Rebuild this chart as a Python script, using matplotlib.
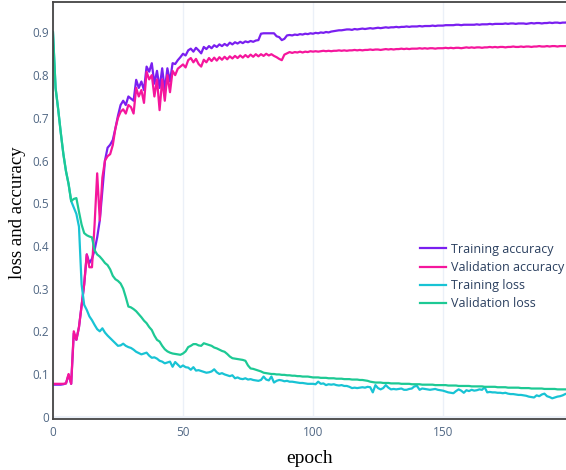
import numpy as np
import matplotlib
matplotlib.use("Agg")
import matplotlib.pyplot as plt

# per-epoch values
train_acc = [
    0.075, 0.075, 0.075, 0.075, 0.076, 0.078, 0.098, 0.077, 0.195, 0.180,
    0.210, 0.260, 0.310, 0.380, 0.360, 0.370, 0.390, 0.420, 0.460, 0.530,
    0.600, 0.630, 0.637, 0.648, 0.675, 0.705, 0.730, 0.740, 0.730, 0.750,
    0.745, 0.740, 0.789, 0.770, 0.785, 0.765, 0.820, 0.808, 0.828, 0.780,
    0.810, 0.770, 0.816, 0.765, 0.816, 0.785, 0.828, 0.826, 0.835, 0.842,
    0.850, 0.846, 0.858, 0.862, 0.855, 0.864, 0.858, 0.851, 0.866, 0.861,
    0.868, 0.863, 0.870, 0.866, 0.872, 0.868, 0.873, 0.869, 0.876, 0.872,
    0.877, 0.874, 0.878, 0.875, 0.879, 0.877, 0.880, 0.878, 0.881, 0.882,
    0.897, 0.898, 0.898, 0.898, 0.898, 0.898, 0.891, 0.889, 0.882, 0.885,
    0.893, 0.894, 0.893, 0.895, 0.894, 0.896, 0.895, 0.897, 0.896, 0.898,
    0.897, 0.899, 0.898, 0.900, 0.899, 0.901, 0.900, 0.902, 0.903, 0.904,
    0.905, 0.905, 0.906, 0.907, 0.907, 0.906, 0.908, 0.907, 0.908, 0.909,
    0.908, 0.909, 0.910, 0.909, 0.910, 0.911, 0.910, 0.911, 0.912, 0.911,
    0.912, 0.912, 0.913, 0.912, 0.913, 0.913, 0.914, 0.913, 0.914, 0.914,
    0.914, 0.915, 0.914, 0.915, 0.915, 0.915, 0.916, 0.915, 0.916, 0.916,
    0.916, 0.917, 0.917, 0.917, 0.917, 0.918, 0.918, 0.917, 0.918, 0.918,
    0.918, 0.918, 0.918, 0.919, 0.918, 0.919, 0.919, 0.919, 0.920, 0.919,
    0.920, 0.920, 0.920, 0.920, 0.921, 0.920, 0.921, 0.921, 0.920, 0.921,
    0.921, 0.921, 0.920, 0.921, 0.922, 0.921, 0.922, 0.922, 0.921, 0.922,
    0.922, 0.923, 0.922, 0.923, 0.923, 0.922, 0.923, 0.923, 0.924, 0.923,
]
val_acc = [
    0.077, 0.077, 0.077, 0.077, 0.077, 0.078, 0.100, 0.077, 0.200, 0.180,
    0.210, 0.260, 0.310, 0.380, 0.350, 0.350, 0.450, 0.570, 0.460, 0.560,
    0.600, 0.610, 0.615, 0.636, 0.675, 0.700, 0.714, 0.720, 0.710, 0.730,
    0.725, 0.710, 0.770, 0.750, 0.765, 0.735, 0.808, 0.790, 0.800, 0.750,
    0.790, 0.718, 0.790, 0.740, 0.800, 0.760, 0.810, 0.800, 0.815, 0.820,
    0.825, 0.818, 0.835, 0.840, 0.830, 0.838, 0.826, 0.820, 0.836, 0.830,
    0.840, 0.833, 0.841, 0.834, 0.842, 0.836, 0.843, 0.837, 0.844, 0.839,
    0.845, 0.840, 0.846, 0.841, 0.847, 0.842, 0.848, 0.843, 0.849, 0.844,
    0.849, 0.845, 0.850, 0.846, 0.849, 0.845, 0.842, 0.838, 0.835, 0.848,
    0.851, 0.854, 0.852, 0.854, 0.853, 0.855, 0.853, 0.855, 0.854, 0.856,
    0.855, 0.856, 0.855, 0.856, 0.857, 0.856, 0.857, 0.856, 0.857, 0.857,
    0.858, 0.857, 0.858, 0.857, 0.858, 0.858, 0.859, 0.858, 0.859, 0.858,
    0.859, 0.859, 0.860, 0.859, 0.860, 0.860, 0.859, 0.860, 0.861, 0.860,
    0.861, 0.860, 0.861, 0.861, 0.862, 0.861, 0.862, 0.861, 0.862, 0.862,
    0.862, 0.863, 0.862, 0.863, 0.862, 0.863, 0.863, 0.862, 0.863, 0.863,
    0.863, 0.864, 0.863, 0.864, 0.863, 0.864, 0.864, 0.863, 0.864, 0.865,
    0.864, 0.865, 0.864, 0.865, 0.865, 0.864, 0.865, 0.865, 0.866, 0.865,
    0.866, 0.865, 0.866, 0.866, 0.865, 0.866, 0.866, 0.867, 0.866, 0.866,
    0.867, 0.866, 0.867, 0.867, 0.866, 0.867, 0.867, 0.868, 0.867, 0.867,
    0.868, 0.867, 0.868, 0.868, 0.867, 0.868, 0.868, 0.868, 0.869, 0.868,
]
train_loss = [
    0.900, 0.770, 0.720, 0.665, 0.615, 0.575, 0.545, 0.505, 0.490, 0.475,
    0.445, 0.310, 0.262, 0.250, 0.235, 0.226, 0.215, 0.205, 0.200, 0.207,
    0.197, 0.190, 0.184, 0.178, 0.172, 0.166, 0.167, 0.171, 0.166, 0.163,
    0.161, 0.157, 0.152, 0.149, 0.146, 0.148, 0.150, 0.143, 0.138, 0.139,
    0.136, 0.131, 0.129, 0.125, 0.127, 0.129, 0.117, 0.128, 0.122, 0.116,
    0.120, 0.116, 0.115, 0.110, 0.116, 0.108, 0.109, 0.107, 0.105, 0.103,
    0.104, 0.106, 0.111, 0.104, 0.100, 0.102, 0.099, 0.097, 0.095, 0.097,
    0.090, 0.092, 0.089, 0.088, 0.090, 0.087, 0.088, 0.086, 0.085, 0.084,
    0.086, 0.094, 0.087, 0.085, 0.094, 0.080, 0.084, 0.086, 0.085, 0.083,
    0.084, 0.082, 0.082, 0.081, 0.080, 0.079, 0.079, 0.078, 0.077, 0.077,
    0.077, 0.076, 0.082, 0.077, 0.078, 0.074, 0.076, 0.075, 0.076, 0.074,
    0.073, 0.074, 0.072, 0.072, 0.070, 0.067, 0.068, 0.067, 0.068, 0.069,
    0.068, 0.070, 0.069, 0.057, 0.074, 0.067, 0.064, 0.067, 0.074, 0.068,
    0.064, 0.065, 0.064, 0.065, 0.066, 0.063, 0.063, 0.065, 0.066, 0.071,
    0.072, 0.063, 0.066, 0.065, 0.064, 0.063, 0.064, 0.065, 0.063, 0.062,
    0.061, 0.059, 0.057, 0.056, 0.055, 0.060, 0.064, 0.061, 0.056, 0.062,
    0.060, 0.063, 0.061, 0.062, 0.064, 0.063, 0.069, 0.057, 0.058, 0.057,
    0.057, 0.056, 0.056, 0.055, 0.056, 0.054, 0.053, 0.053, 0.052, 0.051,
    0.051, 0.050, 0.049, 0.047, 0.046, 0.045, 0.050, 0.048, 0.052, 0.054,
    0.048, 0.046, 0.043, 0.045, 0.047, 0.048, 0.050, 0.053, 0.055, 0.056,
]
val_loss = [
    0.900, 0.770, 0.720, 0.665, 0.615, 0.575, 0.545, 0.505, 0.510, 0.512,
    0.480, 0.450, 0.430, 0.425, 0.422, 0.420, 0.390, 0.380, 0.375, 0.368,
    0.360, 0.355, 0.345, 0.330, 0.322, 0.318, 0.312, 0.300, 0.280, 0.258,
    0.256, 0.252, 0.247, 0.240, 0.233, 0.225, 0.219, 0.210, 0.203, 0.190,
    0.180, 0.176, 0.166, 0.158, 0.153, 0.150, 0.148, 0.147, 0.146, 0.145,
    0.148, 0.153, 0.163, 0.166, 0.170, 0.170, 0.167, 0.166, 0.172, 0.170,
    0.168, 0.166, 0.162, 0.160, 0.157, 0.154, 0.152, 0.147, 0.141, 0.137,
    0.136, 0.135, 0.134, 0.133, 0.131, 0.120, 0.113, 0.112, 0.110, 0.108,
    0.106, 0.103, 0.102, 0.101, 0.100, 0.100, 0.099, 0.099, 0.098, 0.098,
    0.097, 0.097, 0.096, 0.096, 0.095, 0.095, 0.094, 0.094, 0.094, 0.093,
    0.092, 0.092, 0.092, 0.091, 0.091, 0.091, 0.090, 0.090, 0.090, 0.089,
    0.089, 0.089, 0.088, 0.088, 0.088, 0.087, 0.087, 0.087, 0.086, 0.086,
    0.085, 0.084, 0.082, 0.081, 0.080, 0.080, 0.080, 0.079, 0.079, 0.079,
    0.078, 0.078, 0.078, 0.078, 0.077, 0.077, 0.077, 0.077, 0.076, 0.076,
    0.076, 0.076, 0.075, 0.075, 0.075, 0.075, 0.075, 0.074, 0.074, 0.074,
    0.074, 0.074, 0.073, 0.073, 0.073, 0.073, 0.072, 0.072, 0.072, 0.072,
    0.072, 0.071, 0.071, 0.071, 0.071, 0.071, 0.070, 0.070, 0.070, 0.070,
    0.070, 0.069, 0.069, 0.069, 0.069, 0.068, 0.068, 0.068, 0.068, 0.068,
    0.067, 0.067, 0.067, 0.067, 0.066, 0.066, 0.066, 0.066, 0.066, 0.065,
    0.065, 0.065, 0.065, 0.065, 0.064, 0.064, 0.064, 0.064, 0.064, 0.064,
]
epochs = np.arange(len(train_acc))

series = [
    ("Training accuracy", train_acc, "#7a1ff0"),
    ("Validation accuracy", val_acc, "#f5169c"),
    ("Training loss", train_loss, "#18c3d4"),
    ("Validation loss", val_loss, "#1dc994"),
]

fig = plt.figure(figsize=(5.66, 4.70), dpi=100)
ax = fig.add_axes([0.0936, 0.1085, 0.9064, 0.887])

for name, vals, col in series:
    ax.plot(epochs, vals, color=col, lw=1.6, label=name, solid_joinstyle="round")

ax.set_xlim(0, 197.3)
ax.set_ylim(-0.0054, 0.971)
ax.set_xticks([0, 50, 100, 150])
ax.set_yticks([0, 0.1, 0.2, 0.3, 0.4, 0.5, 0.6, 0.7, 0.8, 0.9])
ax.set_yticklabels(["0", "0.1", "0.2", "0.3", "0.4", "0.5", "0.6", "0.7", "0.8", "0.9"])

ax.grid(axis="x", color="#ebf0f8", lw=1)
ax.axhline(0, color="#ebf0f8", lw=1.5, zorder=0)
ax.set_axisbelow(True)

for s in ["left", "bottom", "top"]:
    ax.spines[s].set_color("#444444")
    ax.spines[s].set_linewidth(1.3)
ax.spines["right"].set_visible(False)

ax.tick_params(length=0, labelsize=8.5, labelcolor="#506784")
ax.tick_params(axis="y", pad=3)
ax.tick_params(axis="x", pad=5)
for lab in ax.get_xticklabels() + ax.get_yticklabels():
    lab.set_fontfamily("Open Sans")

ax.set_xlabel("epoch", fontfamily="Liberation Serif", fontsize=14, labelpad=8)
fig.text(17.5 / 566, 1 - 213 / 470, "loss and accuracy", rotation=90,
         ha="center", va="center", fontfamily="Liberation Serif", fontsize=13.5)

leg = ax.legend(loc="upper left", bbox_to_anchor=(0.705, 0.435), frameon=False,
                prop={"family": "Open Sans", "size": 9}, handlelength=2.1,
                handletextpad=0.4, labelspacing=0.42, borderaxespad=0)
for t in leg.get_texts():
    t.set_color("#2a3f5f")

fig.savefig("out.png", dpi=100)
